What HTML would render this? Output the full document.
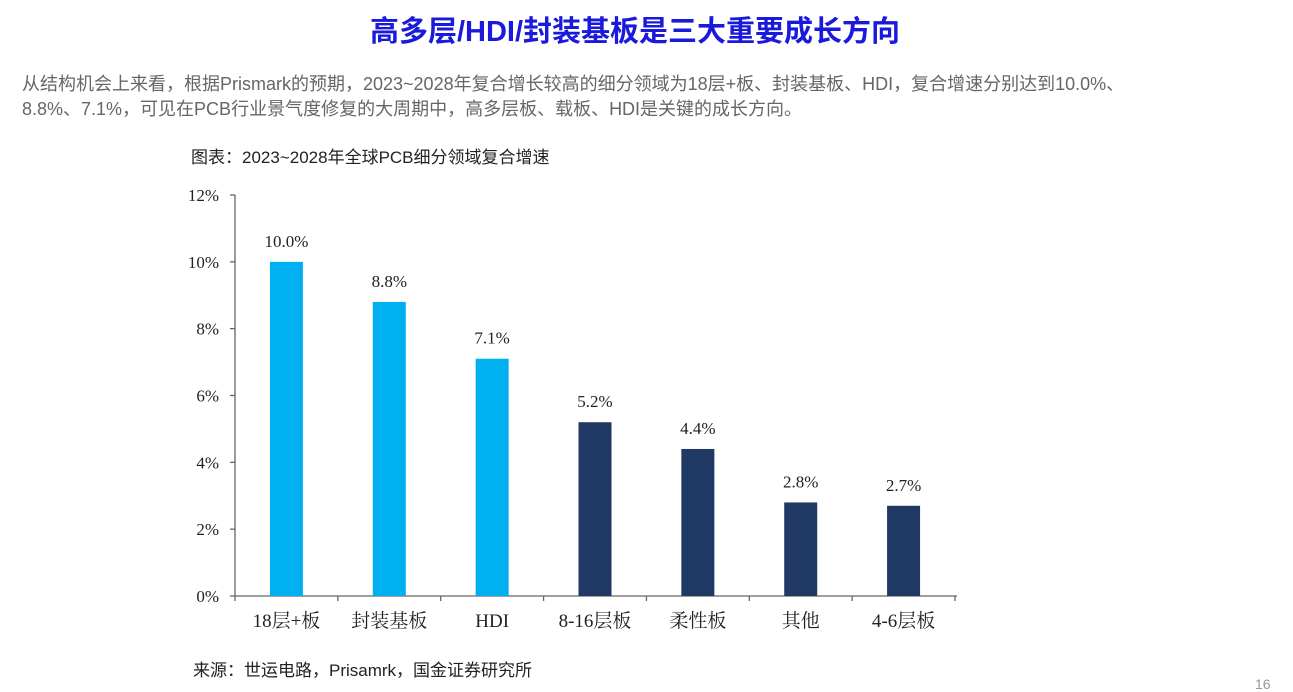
<!DOCTYPE html>
<html><head><meta charset="utf-8"><style>
body{margin:0;width:1293px;height:689px;background:#fff;overflow:hidden;position:relative;font-family:"Liberation Sans","Noto Sans CJK SC",sans-serif}
.t{position:absolute;white-space:nowrap}
</style></head><body>
<div class="t" style="left:0;width:1270px;text-align:center;top:8px;font-size:29px;font-weight:bold;color:#1a1adc">高多层/HDI/封装基板是三大重要成长方向</div>
<div class="t" style="left:22px;top:72px;font-size:18px;line-height:25px;color:#666">从结构机会上来看，根据Prismark的预期，2023~2028年复合增长较高的细分领域为18层+板、封装基板、HDI，复合增速分别达到10.0%、<br>8.8%、7.1%，可见在PCB行业景气度修复的大周期中，高多层板、载板、HDI是关键的成长方向。</div>
<div class="t" style="left:191px;top:143px;font-size:17px;color:#222">图表：2023~2028年全球PCB细分领域复合增速</div>
<div class="t" style="left:193px;top:656px;font-size:17px;color:#222">来源：世运电路，Prisamrk，国金证券研究所</div>
<div class="t" style="left:1255px;top:676px;font-size:14px;color:#999">16</div>
<svg id="c" width="1293" height="689" style="position:absolute;left:0;top:0" font-family="Liberation Serif, Noto Serif CJK SC, serif"></svg>
<script>
const categories=["18层+板","封装基板","HDI","8-16层板","柔性板","其他","4-6层板"];
const values=[10.0,8.8,7.1,5.2,4.4,2.8,2.7];
const highlight=[true,true,true,false,false,false,false];
const yTicks=[0,2,4,6,8,10,12];
const svg=document.getElementById('c');
const NS='http://www.w3.org/2000/svg';
const x0=235,x1=955,y0=596,yTop=195,yMax=12;
const step=(x1-x0)/categories.length;
const y=v=>y0-(v/yMax)*(y0-yTop);
const xc=i=>x0+step*(i+0.5);
function mk(t,a){const e=document.createElementNS(NS,t);for(const k in a)e.setAttribute(k,a[k]);svg.appendChild(e);return e;}
let e=mk('line',{x1:x0,y1:yTop,x2:x0,y2:y0,stroke:'#666','stroke-width':1.3});


e=mk('line',{x1:x0,y1:y0,x2:x1+2,y2:y0,stroke:'#666','stroke-width':1.3});


yTicks.forEach(v=>{
 mk('line',{x1:x0-5,y1:y(v),x2:x0,y2:y(v),stroke:'#666','stroke-width':1.3});
 const t=mk('text',{x:x0-16,y:y(v)+6,'text-anchor':'end','font-size':17,fill:'#222'});
 t.textContent=v+'%';
 
 
});
for(let i=0;i<=categories.length;i++)mk('line',{x1:x0+step*i,y1:y0,x2:x0+step*i,y2:y0+5,stroke:'#666','stroke-width':1.3});
categories.forEach((c,i)=>{
 const b=mk('rect',{x:xc(i)-16.5,y:y(values[i]),width:33,height:y0-y(values[i]),fill:highlight[i]?'#00b0f0':'#1f3864'});
 
 
 const l=mk('text',{x:xc(i),y:y(values[i])-15,'text-anchor':'middle','font-size':17,fill:'#222'});
 l.textContent=values[i].toFixed(1)+'%';
 
 
 const t=mk('text',{x:xc(i),y:627,'text-anchor':'middle','font-size':19,fill:'#222'});
 t.textContent=c;
 
 
});
</script>
</body></html>
